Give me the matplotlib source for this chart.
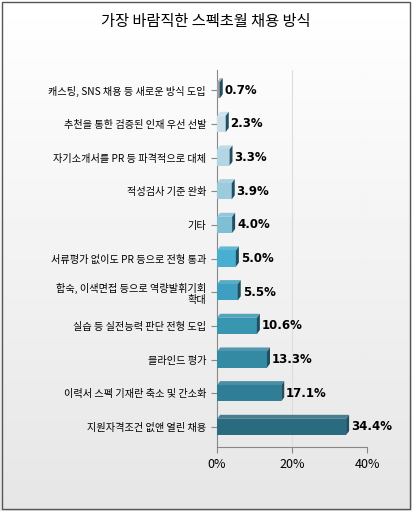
import numpy as np
import matplotlib.pyplot as plt
from matplotlib.patches import Polygon, Rectangle

plt.rcParams['font.family'] = ['Noto Sans CJK KR', 'DejaVu Sans']

# Data (top to bottom)
labels = ['캐스팅, SNS 채용 등 새로운 방식 도입', '추천을 통한 검증된 인재 우선 선발',
          '자기소개서를 PR 등 파격적으로 대체', '적성검사 기준 완화', '기타',
          '서류평가 없이도 PR 등으로 전형 통과', '합숙, 이색면접 등으로 역량발휘기회\n확대',
          '실습 등 실전능력 판단 전형 도입', '블라인드 평가',
          '이력서 스펙 기재란 축소 및 간소화', '지원자격조건 없앤 열린 채용']
values = [0.7, 2.3, 3.3, 3.9, 4.0, 5.0, 5.5, 10.6, 13.3, 17.1, 34.4]
colors = ['#9a9fa3', '#c6dfe9', '#b3d6e4', '#9ccbdd', '#7fbfd6', '#49afd0',
          '#3f9fc0', '#3996b1', '#3489a3', '#2f7d96', '#2b6b80']
ticks = [0, 20, 40]

fig = plt.figure(figsize=(4.12, 5.11), dpi=100)
# background gradient and border
bg = fig.add_axes([0, 0, 1, 1], zorder=-1)
grad = np.linspace(1, 0.9, 256).reshape(-1, 1)
bg.imshow(grad, aspect='auto', cmap='gray', vmin=0, vmax=1, extent=[0, 1, 0, 1])
bg.add_patch(Rectangle((0.004, 0.004), 0.992, 0.992, fill=False, ec='#555', lw=1))
bg.set_xlim(0, 1); bg.set_ylim(0, 1); bg.axis('off')

fig.text(0.5, 0.957, '가장 바람직한 스펙초월 채용 방식', ha='center', va='center', fontsize=11)

ax = fig.add_axes([0.527, 0.125, 0.364, 0.738])
ax.set_facecolor('none')
n = len(values)
y = np.arange(n)[::-1]
h = 0.48
dx, dy = 0.8, 0.12
for yi, v, c in zip(y, values, colors):
    ax.barh(yi, v, height=h, color=c, edgecolor='none', zorder=3)
    top = Polygon([(0, yi + h / 2), (v, yi + h / 2), (v + dx, yi + h / 2 + dy), (dx, yi + h / 2 + dy)],
                  closed=True, fc=c, ec='none', alpha=0.85, zorder=3)
    side = Polygon([(v, yi - h / 2), (v + dx, yi - h / 2 + dy), (v + dx, yi + h / 2 + dy), (v, yi + h / 2)],
                   closed=True, fc='#1f4f60', ec='none', zorder=3)
    ax.add_patch(top); ax.add_patch(side)
    ax.text(v + dx + 0.5, yi, f'{v:.1f}%', va='center', ha='left', fontsize=8.5,
            fontweight='bold', family=['DejaVu Sans'], zorder=4)

ax.set_yticks(y)
ax.set_yticklabels(labels, fontsize=7.3)
ax.set_xticks(ticks)
ax.set_xticklabels([f'{t}%' for t in ticks], fontsize=9)
ax.set_xlim(0, 40)
ax.set_ylim(-0.6, n - 0.4)
for t in ticks[1:]:
    ax.axvline(t, color='#dddddd', lw=0.8, zorder=1)
for s in ['top', 'right']:
    ax.spines[s].set_visible(False)
ax.spines['left'].set_color('#888')
ax.spines['bottom'].set_color('#888')
ax.tick_params(axis='y', length=4, color='#888', pad=4)
ax.tick_params(axis='x', length=4, color='#888')

fig.savefig('out.png', dpi=100)
